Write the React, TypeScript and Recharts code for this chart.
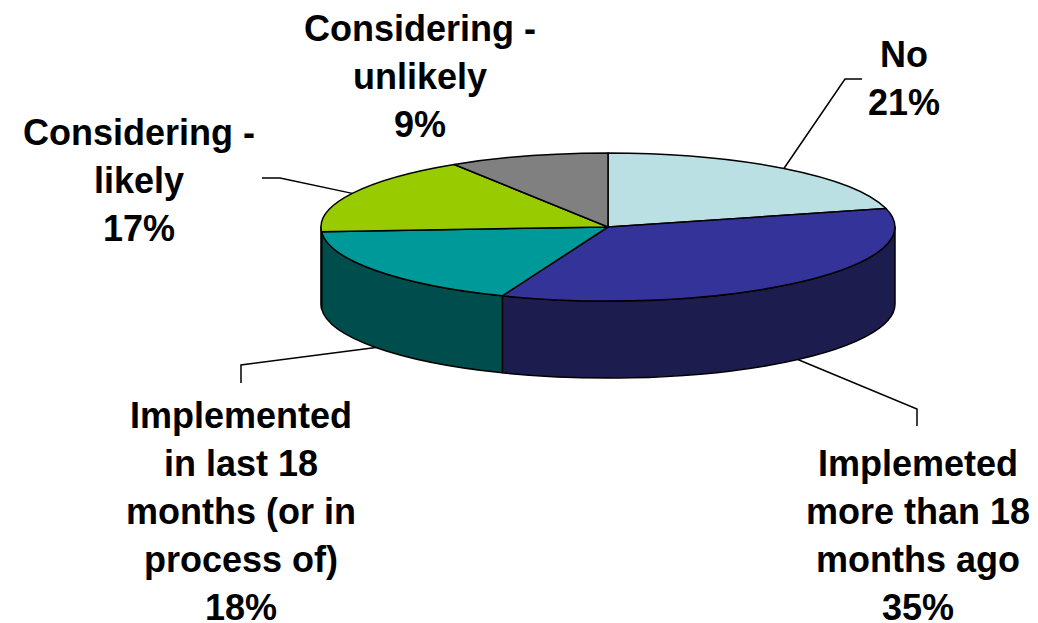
import { PieChart, Pie } from "recharts"

const LABELS = [
  ["No"],
  ["Implemeted", "more than 18", "months ago"],
  ["Implemented", "in last 18", "months (or in", "process of)"],
  ["Considering -", "likely"],
  ["Considering -", "unlikely"],
]
const VALUES = [21, 35, 18, 17, 9]
const TOP_COLORS = ["#bbe0e3", "#333399", "#009999", "#99cc00", "#808080"]
const SIDE_COLORS = ["#5e7072", "#1c1c4f", "#004d4d", "#4d6600", "#404040"]

const data = VALUES.map((value, i) => ({ name: LABELS[i].join(" "), value, fill: TOP_COLORS[i] }))

// layout of the data labels: text centre, first baseline, leader elbow and end
const LABEL_LAYOUT = [
  { x: 904, y: 67, leader: [[845, 79], [862, 79]] },
  { x: 918, y: 476, leader: [[917, 409], [917, 426]] },
  { x: 241, y: 428, leader: [[241, 365], [241, 383]] },
  { x: 139, y: 145, leader: [[280, 178], [262, 178]] },
  { x: 420, y: 41, leader: [] },
]

const TILT = 0.258
const DEPTH = 77
const RAD = Math.PI / 180

const pt = (cx: number, cy: number, rx: number, ry: number, a: number) => [
  cx + rx * Math.cos(-a * RAD),
  cy + ry * Math.sin(-a * RAD),
]

const Slice3D = (props: any) => {
  const { cx, cy, outerRadius, startAngle, endAngle, index } = props
  const rx = outerRadius
  const ry = outerRadius * TILT
  const a1 = Math.max(startAngle, endAngle)
  const a2 = Math.min(startAngle, endAngle)
  const [x1, y1] = pt(cx, cy, rx, ry, a1)
  const [x2, y2] = pt(cx, cy, rx, ry, a2)
  const large = a1 - a2 > 180 ? 1 : 0
  const top = `M${cx},${cy} L${x1},${y1} A${rx},${ry} 0 ${large} 1 ${x2},${y2} Z`

  let wall = null
  const hi = Math.min(a1, 0)
  const lo = Math.max(a2, -180)
  if (hi > lo) {
    const [hx, hy] = pt(cx, cy, rx, ry, hi)
    const [lx, ly] = pt(cx, cy, rx, ry, lo)
    const wl = hi - lo > 180 ? 1 : 0
    wall = `M${hx},${hy} A${rx},${ry} 0 ${wl} 1 ${lx},${ly} L${lx},${ly + DEPTH} A${rx},${ry} 0 ${wl} 0 ${hx},${hy + DEPTH} Z`
  }
  return (
    <g>
      {wall && <path d={wall} fill={SIDE_COLORS[index]} stroke="#000" strokeWidth={1.5} strokeLinejoin="round" />}
      <path d={top} fill={TOP_COLORS[index]} stroke="#000" strokeWidth={1.5} strokeLinejoin="round" />
    </g>
  )
}

const renderLabel = (props: any) => {
  const { cx, cy, midAngle, outerRadius, index } = props
  const ry = outerRadius * TILT
  let [ax, ay] = pt(cx, cy, outerRadius, ry, midAngle)
  if (ay > cy) ay += DEPTH
  const lay = LABEL_LAYOUT[index]
  const lines = [...LABELS[index], `${VALUES[index]}%`]
  const pts = [[ax, ay], ...lay.leader].map((p) => p.join(",")).join(" ")
  return (
    <g key={`lbl-${index}`}>
      {lay.leader.length > 0 && <polyline points={pts} fill="none" stroke="#000" strokeWidth={1.5} />}
      <text
        x={lay.x}
        y={lay.y}
        textAnchor="middle"
        fontFamily="'Liberation Sans', Arial, sans-serif"
        fontWeight="bold"
        fontSize={36}
        fill="#000"
      >
        {lines.map((l, i) => (
          <tspan key={i} x={lay.x} dy={i === 0 ? 0 : 48}>
            {l}
          </tspan>
        ))}
      </text>
    </g>
  )
}

export default function App() {
  return (
    <div style={{ position: "absolute", left: 0, top: 0, background: "#fff" }}>
      <PieChart width={1038} height={623} margin={{ top: 0, right: 0, bottom: 0, left: 0 }}>
        <Pie
          data={data}
          dataKey="value"
          cx={608}
          cy={227}
          outerRadius={287}
          startAngle={90}
          endAngle={-270}
          shape={Slice3D}
          label={renderLabel}
          labelLine={false}
          isAnimationActive={false}
        />
      </PieChart>
    </div>
  )
}
